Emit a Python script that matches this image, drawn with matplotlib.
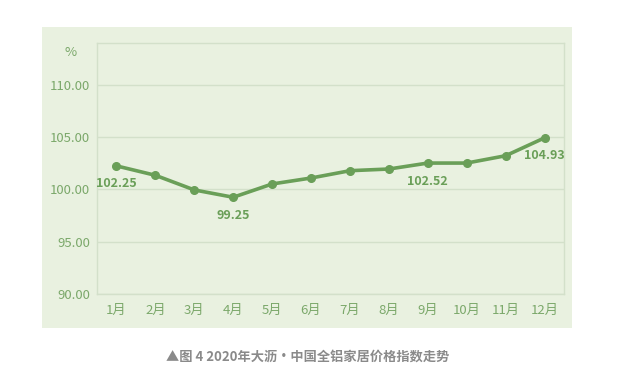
import matplotlib.pyplot as plt
from matplotlib.patches import Rectangle

plt.rcParams['font.family'] = ['Noto Sans CJK SC', 'DejaVu Sans']

months = ['1月', '2月', '3月', '4月', '5月', '6月', '7月', '8月', '9月', '10月', '11月', '12月']
index_values = [102.25, 101.35, 99.95, 99.25, 100.52, 101.09, 101.79, 101.95, 102.52, 102.52, 103.22, 104.93]
labelled = [0, 3, 8, 11]
y_ticks = [90, 95, 100, 105, 110]

green = '#6a9f58'
tick_color = '#7ba86a'
grid_color = '#d3e0ca'
panel_color = '#e9f1e0'

W, H = 638, 390
fig = plt.figure(figsize=(W / 100, H / 100), dpi=100)
fig.patch.set_facecolor('white')

# green panel behind the chart
fig.patches.append(Rectangle((42 / W, 1 - 328 / H), 530 / W, 301 / H,
                             transform=fig.transFigure, facecolor=panel_color,
                             edgecolor='none', zorder=-10))

ax = fig.add_axes([97 / W, 1 - 294 / H, 467 / W, 251 / H])
ax.set_facecolor('none')

x = list(range(len(months)))
ax.plot(x, index_values, color=green, lw=2.6, marker='o', ms=5.5, zorder=3)

for i in labelled:
    ax.annotate(f'{index_values[i]:.2f}', (x[i], index_values[i]), xytext=(0, -13),
                textcoords='offset points', ha='center', va='center',
                fontsize=9, fontweight='bold', color=green)

ax.set_xlim(-0.5, len(months) - 0.5)
ax.set_ylim(90, 114)
ax.set_xticks(x)
ax.set_xticklabels(months)
ax.set_yticks(y_ticks)
ax.set_yticklabels([f'{v:.2f}' for v in y_ticks])
ax.tick_params(colors=tick_color, labelsize=9.5, length=0)
ax.tick_params(axis='x', pad=7)
ax.tick_params(axis='y', pad=5)
ax.grid(axis='y', color=grid_color, lw=1)
ax.set_axisbelow(True)
for s in ax.spines.values():
    s.set_color(grid_color)
    s.set_linewidth(1)

fig.text(71 / W, 1 - 53 / H, '%', color=tick_color, fontsize=9.5, ha='center', va='center')
fig.text(308 / W, 1 - 357 / H, '▲图 4 2020年大沥·中国全铝家居价格指数走势', color='#8a8a8a',
         fontsize=9.5, fontweight='bold', ha='center', va='center')

fig.savefig('out.png', dpi=100, facecolor='white')
